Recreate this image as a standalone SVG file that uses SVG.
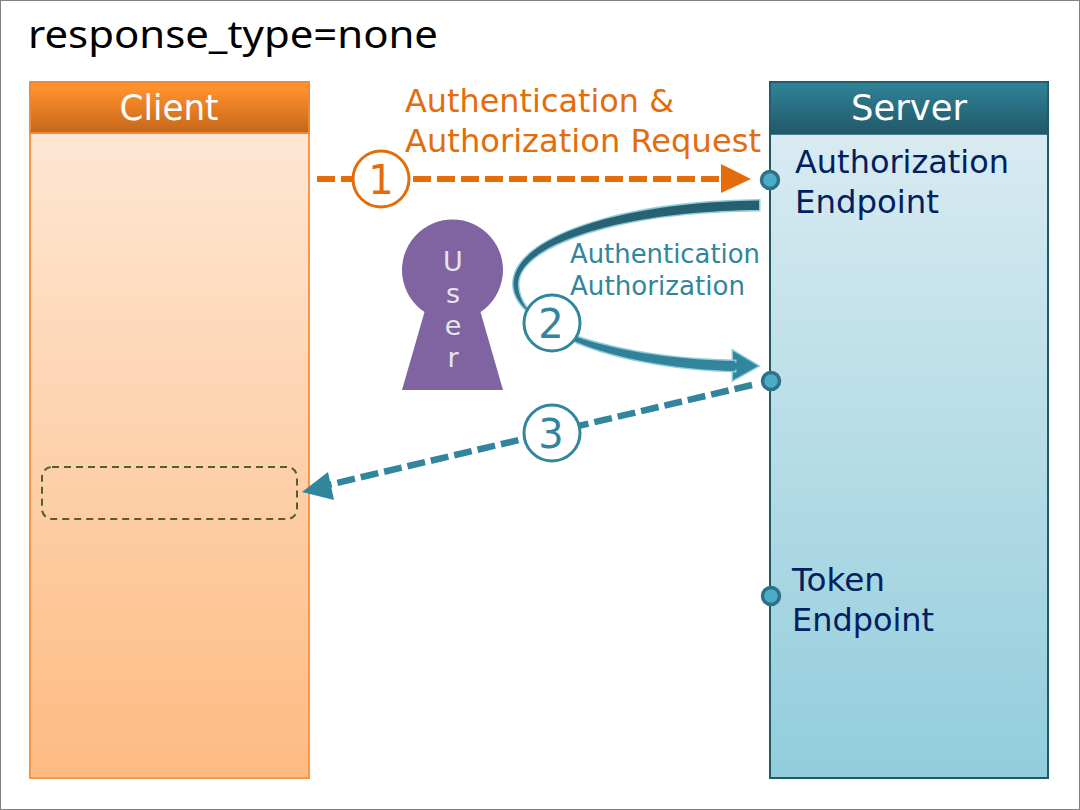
<svg xmlns="http://www.w3.org/2000/svg" width="1080" height="810" viewBox="0 0 1080 810">
<style>
text{font-family:"DejaVu Sans","Liberation Sans",sans-serif}
.head{font-size:35px;fill:#fff;text-anchor:middle}
.ep{font-size:32px;fill:#002060}
.or{font-size:32px;fill:#e46c0a}
.teal{font-size:26px;fill:#31859c}
.num{font-size:40px;text-anchor:middle}
.dot{fill:#4bacc6;stroke:#2f7186;stroke-width:3.5}
.user{font-size:27px;fill:#e8e4ef;text-anchor:middle}
.title{font-family:"Noto Sans",sans-serif;font-size:39px;fill:#000}
</style>
<defs>
<linearGradient id="cb" x1="0" y1="0" x2="0" y2="1"><stop offset="0" stop-color="#feeadb"/><stop offset="1" stop-color="#fdbb82"/></linearGradient>
<linearGradient id="ch" x1="0" y1="0" x2="0" y2="1"><stop offset="0.15" stop-color="#ff902b"/><stop offset="1" stop-color="#c4661a"/></linearGradient>
<linearGradient id="sb" x1="0" y1="0" x2="0" y2="1"><stop offset="0" stop-color="#deedf3"/><stop offset="1" stop-color="#92cddc"/></linearGradient>
<linearGradient id="sh" x1="0" y1="0" x2="0" y2="1"><stop offset="0.1" stop-color="#2f7f95"/><stop offset="1" stop-color="#215968"/></linearGradient>
<linearGradient id="arc" gradientUnits="userSpaceOnUse" x1="0" y1="205" x2="0" y2="366"><stop offset="0" stop-color="#265f70"/><stop offset="0.5" stop-color="#2d7187"/><stop offset="1" stop-color="#31859c"/></linearGradient>
</defs>
<rect x="0.5" y="0.5" width="1079" height="809" fill="#fff" stroke="#808080"/>
<text class="title" x="28" y="48" textLength="410" lengthAdjust="spacingAndGlyphs">response_type=none</text>
<g id="client">
<rect x="30" y="82" width="279" height="696" fill="url(#cb)" stroke="#f79646" stroke-width="2"/>
<rect x="30" y="82" width="279" height="51" fill="url(#ch)" stroke="#f0883c" stroke-width="2"/>
<text class="head" x="169" y="120" textLength="99" lengthAdjust="spacingAndGlyphs">Client</text>
<rect x="42" y="467" width="255" height="52" rx="10" fill="none" stroke="#4f6228" stroke-width="2" stroke-dasharray="7 5"/>
</g>
<g id="server">
<rect x="770" y="82" width="278" height="696" fill="url(#sb)" stroke="#215968" stroke-width="2"/>
<rect x="770" y="82" width="278" height="52" fill="url(#sh)" stroke="#215968" stroke-width="1.5"/>
<text class="head" x="909" y="120" textLength="116" lengthAdjust="spacingAndGlyphs">Server</text>
</g>
<g id="auth-endpoint">
<circle class="dot" cx="770" cy="180" r="8.500"/>
<text class="ep" x="795" y="173" textLength="214" lengthAdjust="spacingAndGlyphs">Authorization</text>
<text class="ep" x="795" y="213" textLength="144" lengthAdjust="spacingAndGlyphs">Endpoint</text>
</g>
<g id="mid-endpoint"><circle class="dot" cx="771" cy="381" r="8.500"/></g>
<g id="token-endpoint">
<circle class="dot" cx="771" cy="596" r="8.500"/>
<text class="ep" x="792" y="591" textLength="93" lengthAdjust="spacingAndGlyphs">Token</text>
<text class="ep" x="792" y="631" textLength="142" lengthAdjust="spacingAndGlyphs">Endpoint</text>
</g>
<g id="user">
<path d="M402 390 L424.500 312 A50.500 50.500 0 1 1 480.500 312 L503 390 Z" fill="#8064a2"/>
<text class="user" x="453" y="271">U</text>
<text class="user" x="453" y="303">s</text>
<text class="user" x="453" y="335">e</text>
<text class="user" x="453" y="367">r</text>
</g>
<g id="connectors">
<g id="c1">
<path d="M317 179 H724" fill="none" stroke="#e46c0a" stroke-width="6" stroke-dasharray="18 6"/>
<path d="M721 164 L751 179 L721 193 Z" fill="#e46c0a"/>
<text class="or" x="405" y="112" textLength="269" lengthAdjust="spacingAndGlyphs">Authentication &amp;</text>
<text class="or" x="405" y="152" textLength="356" lengthAdjust="spacingAndGlyphs">Authorization Request</text>
<circle cx="381" cy="179" r="28" fill="#fff" stroke="#e46c0a" stroke-width="3"/>
<text class="num" x="381" y="194" fill="#e46c0a">1</text>
</g>
<g id="c2">
<path d="M733 351 L758 366 L733 380 Z" fill="#31859c" stroke="#92cddc" stroke-width="3" paint-order="stroke"/>
<path d="M759 200.500 C620 202 513.500 238 513.500 284 C513.500 330 625 359 735 361 L735 371 C625 368 518 335 518 284 C518 245 620 211 759 210 Z" fill="url(#arc)" stroke="#92cddc" stroke-width="3" paint-order="stroke"/>
<path d="M731 362.500 H737 V369.500 H731 Z" fill="#31859c"/>
<text class="teal" x="570" y="263" textLength="190" lengthAdjust="spacingAndGlyphs">Authentication</text>
<text class="teal" x="570" y="295" textLength="175" lengthAdjust="spacingAndGlyphs">Authorization</text>
<circle cx="552" cy="323" r="28" fill="#fff" stroke="#31859c" stroke-width="3"/>
<text class="num" x="551" y="338" fill="#31859c">2</text>
</g>
<g id="c3">
<path d="M752 385 L328 485" fill="none" stroke="#31859c" stroke-width="6.500" stroke-dasharray="18 6"/>
<path d="M302 492 L328 472 L334 500 Z" fill="#31859c"/>
<circle cx="552" cy="433" r="28" fill="#fff" stroke="#31859c" stroke-width="3"/>
<text class="num" x="551" y="448" fill="#31859c">3</text>
</g>
</g>
</svg>
